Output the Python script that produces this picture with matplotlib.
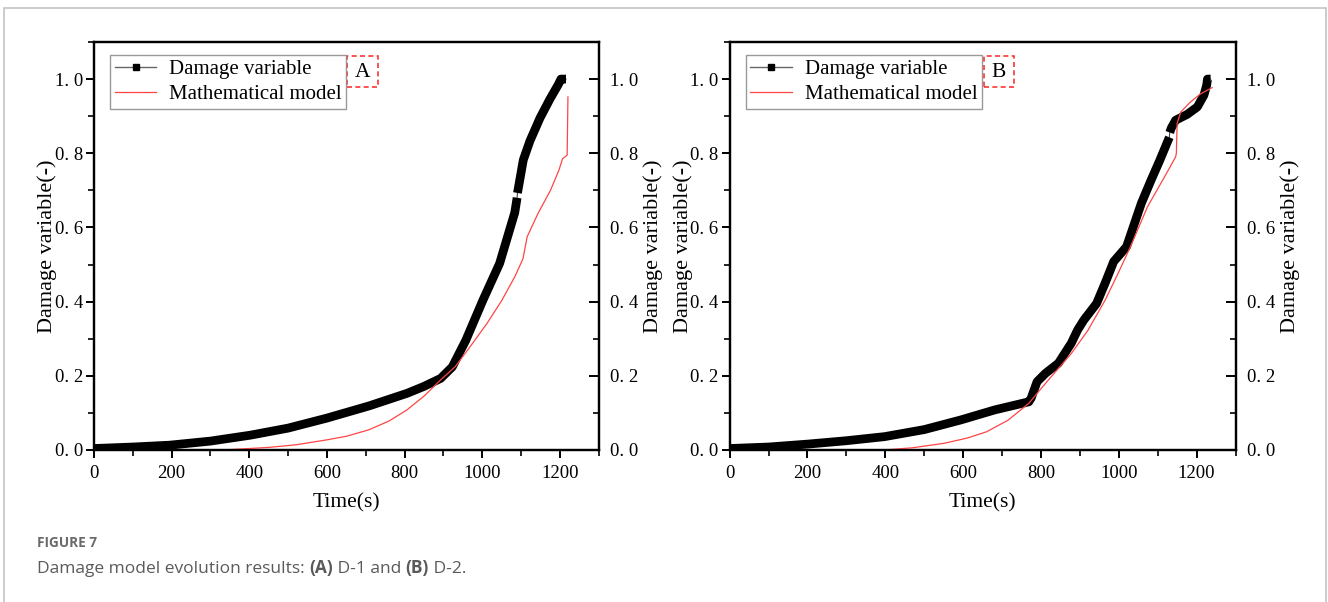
import matplotlib
matplotlib.use("Agg")
import matplotlib.pyplot as plt
from matplotlib.lines import Line2D
from matplotlib.patches import Rectangle
from matplotlib.ticker import FuncFormatter, MultipleLocator

plt.rcParams["font.family"] = ["Liberation Serif", "DejaVu Serif"]

# D-1: measured damage variable (thick) and model curve (thin)
time_a = [0, 100, 195, 300, 403, 500, 600, 709, 807, 849, 893, 923, 958, 1002,
          1045, 1084, 1090, 1091, 1106, 1123, 1149, 1174, 1196, 1203, 1216]
damage_a = [0.004, 0.008, 0.013, 0.024, 0.040, 0.059, 0.086, 0.119, 0.153, 0.171,
            0.193, 0.224, 0.296, 0.404, 0.503, 0.640, 0.680, 0.693, 0.782, 0.833,
            0.895, 0.945, 0.985, 1.0, 1.0]
break_a = 17  # index where the measured series jumps

model_time_a = [0, 350, 450, 520, 598, 650, 707, 760, 806, 850, 893, 931, 970,
                1013, 1051, 1084, 1105, 1116, 1144, 1176, 1198, 1207, 1219, 1221]
model_a = [0.0, 0.001, 0.007, 0.014, 0.027, 0.037, 0.054, 0.078, 0.108, 0.145,
           0.189, 0.225, 0.280, 0.342, 0.404, 0.467, 0.515, 0.575, 0.638, 0.700,
           0.755, 0.785, 0.795, 0.952]

# D-2
time_b = [0, 100, 202, 300, 398, 500, 594, 681, 769, 775, 790, 812, 845, 878, 894,
          910, 943, 965, 987, 1020, 1058, 1082, 1105, 1130, 1131, 1135, 1146, 1176,
          1202, 1219, 1226, 1228, 1236]
damage_b = [0.004, 0.008, 0.016, 0.025, 0.036, 0.055, 0.081, 0.108, 0.130, 0.140,
            0.184, 0.207, 0.234, 0.288, 0.323, 0.350, 0.395, 0.450, 0.508, 0.548,
            0.665, 0.725, 0.780, 0.843, 0.856, 0.868, 0.889, 0.905, 0.925, 0.957,
            0.984, 1.0, 1.0]
break_b = 24

model_time_b = [0, 397, 470, 551, 610, 660, 715, 769, 812, 845, 878, 921, 965, 1000,
                1030, 1074, 1118, 1146, 1148, 1150, 1159, 1184, 1210, 1240]
model_b = [0.0, 0.0, 0.006, 0.018, 0.032, 0.049, 0.080, 0.126, 0.180, 0.220, 0.260,
           0.323, 0.404, 0.480, 0.548, 0.656, 0.737, 0.790, 0.800, 0.880, 0.911,
           0.938, 0.960, 0.977]

x_ticks = [0, 200, 400, 600, 800, 1000, 1200]
y_ticks = [0.0, 0.2, 0.4, 0.6, 0.8, 1.0]
legend_labels = ["Damage variable", "Mathematical model"]
panel_tags = ["A", "B"]

RED = "#ff4545"
ylab = "Damage variable(-)"
fmt = FuncFormatter(lambda v, pos: f"{v:.1f}".replace(".", ". "))


def draw_panel(ax, t, d, brk, mt, md, tag):
    ax.plot(t, d, color="#444444", lw=0.8, zorder=2)
    ax.plot(t[:brk], d[:brk], color="black", lw=6.3, solid_capstyle="butt",
            solid_joinstyle="round", zorder=2)
    ax.plot(t[brk:], d[brk:], color="black", lw=6.3, solid_capstyle="butt",
            solid_joinstyle="round", zorder=2)
    ax.plot(mt, md, color=RED, lw=0.9, zorder=3)

    ax.set_xlim(0, 1300)
    ax.set_ylim(0, 1.1)
    ax.set_xticks(x_ticks)
    ax.set_yticks(y_ticks)
    ax.xaxis.set_minor_locator(MultipleLocator(100))
    ax.yaxis.set_minor_locator(MultipleLocator(0.1))
    ax.yaxis.set_major_formatter(fmt)
    for s in ax.spines.values():
        s.set_linewidth(1.6)
    ax.tick_params(axis="both", which="major", direction="out", length=6,
                   width=1.4, labelsize=13.5, pad=2)
    ax.tick_params(axis="both", which="minor", direction="out", length=4, width=1.2)
    ax.tick_params(axis="x", pad=5)
    ax.set_xlabel("Time(s)", fontsize=15.5, labelpad=8)
    ax.set_ylabel(ylab, fontsize=16, labelpad=-2)

    tw = ax.twinx()
    tw.set_ylim(ax.get_ylim())
    tw.set_yticks(y_ticks)
    tw.yaxis.set_minor_locator(MultipleLocator(0.1))
    tw.yaxis.set_major_formatter(fmt)
    tw.tick_params(axis="y", which="major", direction="in", length=7, width=1.4,
                   labelsize=13.5, pad=8)
    tw.tick_params(axis="y", which="minor", direction="in", length=4, width=1.2)
    tw.set_ylabel(ylab, fontsize=16, labelpad=4)
    for s in tw.spines.values():
        s.set_linewidth(1.6)

    handles = [
        Line2D([], [], color="#666666", lw=1, marker="s", ms=4,
               mfc="black", mec="black"),
        Line2D([], [], color=RED, lw=0.9),
    ]
    leg = ax.legend(handles, legend_labels, loc="upper left",
                    bbox_to_anchor=(0.032, 0.968), borderaxespad=0,
                    fontsize=15, frameon=True, fancybox=False,
                    edgecolor="#808080", handlelength=2.0, handletextpad=0.6,
                    labelspacing=0.25, borderpad=0.22)
    leg.get_frame().set_linewidth(1.0)

    ax.add_patch(Rectangle((0.502, 0.89), 0.061, 0.076, transform=ax.transAxes,
                           fill=False, ec="#ff3333", lw=1.2, ls=(0, (3, 2)),
                           clip_on=False))
    ax.text(0.5325, 0.926, tag, transform=ax.transAxes, ha="center",
            va="center", fontsize=15.5)


fig = plt.figure(figsize=(13.28, 6.02), dpi=100)
ax_a = fig.add_axes([94 / 1328, 152 / 602, 504.6 / 1328, 408 / 602])
ax_b = fig.add_axes([729.6 / 1328, 152 / 602, 505.9 / 1328, 408 / 602])
draw_panel(ax_a, time_a, damage_a, break_a, model_time_a, model_a, panel_tags[0])
draw_panel(ax_b, time_b, damage_b, break_b, model_time_b, model_b, panel_tags[1])

# page frame and caption
fig.add_artist(Rectangle((4 / 1328, -0.05), 1322 / 1328, 594 / 602 + 0.05,
                         transform=fig.transFigure, fill=False,
                         ec="#c4c4c4", lw=1.2))

cap = fig.add_axes([0, 0, 1, 1])
cap.set_axis_off()
cap.text(37 / 1328, 1 - 547 / 602, "FIGURE 7", fontsize=9.8, fontweight="bold",
         color="#6a6a6a", family="Open Sans", va="baseline")
parts = [("Damage model evolution results: ", "normal"), ("(A)", "bold"),
         (" D-1 and ", "normal"), ("(B)", "bold"), (" D-2.", "normal")]
prev = cap.text(37 / 1328, 1 - 573 / 602, parts[0][0], fontsize=12.5,
                color="#5a5a5a", family="Open Sans", va="baseline")
for txt, wt in parts[1:]:
    prev = cap.annotate(txt, xy=(1, 0), xycoords=prev, va="bottom",
                        fontsize=12.5, fontweight=wt, color="#5a5a5a",
                        family="Open Sans")

fig.savefig("out.png", dpi=100)
